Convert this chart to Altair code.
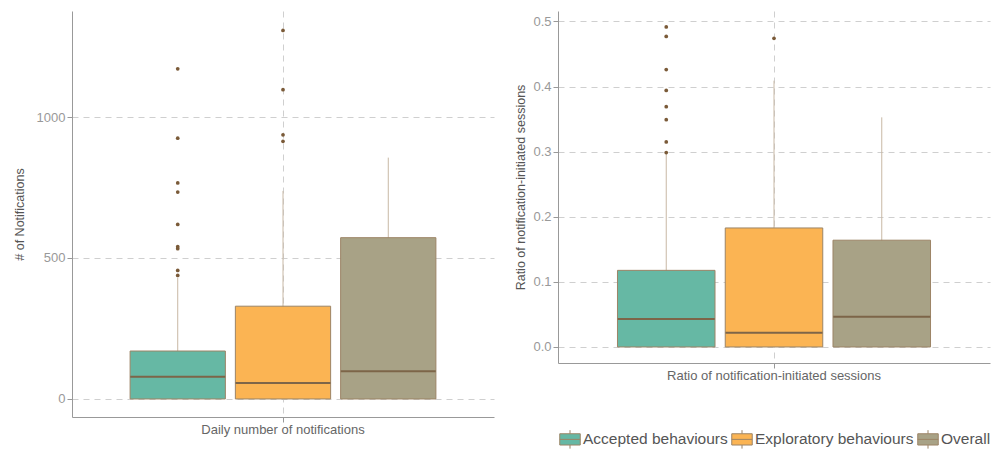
import altair as alt
import pandas as pd

groups = ["Accepted behaviours", "Exploratory behaviours", "Overall"]
colors = ["#66b8a4", "#fbb453", "#a8a286"]

# Left panel: daily number of notifications
left_cat = "Daily number of notifications"
left_q1 = [0, 0, 0]
left_median = [79, 57, 98]
left_q3 = [170, 329, 572]
left_lower = [0, 0, 0]
left_upper = [430, 738, 856]
left_out_accepted = [1171, 925, 766, 734, 619, 540, 533, 456, 438]
left_out_exploratory = [1307, 1097, 937, 914]
left_out_overall = []

# Right panel: ratio of notification-initiated sessions
right_cat = "Ratio of notification-initiated sessions"
right_q1 = [0, 0, 0]
right_median = [0.043, 0.022, 0.0465]
right_q3 = [0.1177, 0.1828, 0.164]
right_lower = [0, 0, 0]
right_upper = [0.2965, 0.409, 0.3527]
right_out_accepted = [0.4915, 0.477, 0.426, 0.394, 0.369, 0.349, 0.315, 0.2985]
right_out_exploratory = [0.474]
right_out_overall = []

FONT = "Liberation Sans"
BORDER = "#9c8466"
WHISKER = "#c8b8a5"
MEDIAN = "#7d6548"
POINT = "#7a5a38"

legend_path = "M-1,-0.55H1V0.55H-1Z M-1,0H1 M0,-0.55V-0.9 M0,0.55V0.9"


def panel(cat, q1, med, q3, lo, hi, outs, domain, values, fmt, ytitle, width, height,
          box_w, title_pad, legend):
    stats = pd.DataFrame({"cat": cat, "group": groups, "q1": q1, "median": med,
                          "q3": q3, "lower": lo, "upper": hi})
    orows = []
    for g, vals in zip(groups, outs):
        for v in vals:
            orows.append({"cat": cat, "group": g, "value": v})
    odf = pd.DataFrame(orows)

    x = alt.X("cat:N", title=None,
              scale=alt.Scale(paddingOuter=0.19, paddingInner=0),
              axis=alt.Axis(labelAngle=0, labelFontSize=13, labelColor="#666",
                            labelPadding=1, tickSize=5, grid=True, labelLimit=500))
    xo = alt.XOffset("group:N", sort=groups,
                     scale=alt.Scale(paddingInner=0.095, paddingOuter=0))
    yscale = alt.Scale(domain=domain, nice=False, zero=False)
    yaxis = alt.Axis(values=values, format=fmt, title=ytitle, titlePadding=title_pad,
                     labelFontSize=13, labelColor="#999", titleFontSize=12.5,
                     titleColor="#555", titleFontWeight="normal", tickSize=5,
                     labelPadding=2)

    whisk = alt.Chart(stats).mark_rule(color=WHISKER, strokeWidth=1).encode(
        x=x, xOffset=xo,
        y=alt.Y("lower:Q", scale=yscale, axis=yaxis), y2="upper:Q")
    box = alt.Chart(stats).mark_bar(stroke=BORDER, strokeWidth=1, opacity=1).encode(
        x=x, xOffset=xo,
        y=alt.Y("q1:Q", scale=yscale, axis=yaxis), y2="q3:Q",
        color=alt.Color("group:N", sort=groups,
                        scale=alt.Scale(domain=groups, range=colors),
                        legend=legend))
    medt = alt.Chart(stats).mark_tick(color=MEDIAN, thickness=2, size=box_w,
                                      orient="horizontal", opacity=1).encode(
        x=x, xOffset=xo, y=alt.Y("median:Q", scale=yscale, axis=yaxis))
    pts = alt.Chart(odf).mark_circle(color=POINT, size=14, opacity=1).encode(
        x=x, xOffset=alt.XOffset("group:N", sort=groups,
                                 scale=alt.Scale(domain=groups, paddingInner=0.095,
                                                 paddingOuter=0)),
        y=alt.Y("value:Q", scale=yscale, axis=yaxis))
    return alt.layer(whisk, box, medt, pts).properties(width=width, height=height)


left = panel(left_cat, left_q1, left_median, left_q3, left_lower, left_upper,
             [left_out_accepted, left_out_exploratory, left_out_overall],
             [-64, 1376], [0, 500, 1000], "d", "# of Notifications",
             422, 406, 95, 10, None)

legend = alt.Legend(title=None, orient="none", legendX=1, legendY=417,
                    direction="horizontal", symbolType=legend_path, symbolSize=420,
                    symbolStrokeColor=BORDER, symbolStrokeWidth=1, symbolOpacity=1,
                    labelFontSize=15.5, labelColor="#555", labelFont=FONT,
                    columnPadding=1, labelOffset=2, labelLimit=300)

right = panel(right_cat, right_q1, right_median, right_q3, right_lower, right_upper,
              [right_out_accepted, right_out_exploratory, right_out_overall],
              [-0.0246, 0.516], [0, 0.1, 0.2, 0.3, 0.4, 0.5], ".1f",
              "Ratio of notification-initiated sessions",
              432, 352, 97, 5, legend)

chart = alt.hconcat(left, right, spacing=20).resolve_scale(
    color="independent", xOffset="independent").resolve_legend(
    color="independent").properties(
    padding={"left": 5, "top": 3, "right": 5, "bottom": 5}
).configure(font=FONT).configure_view(stroke=None).configure_axis(
    domainColor="#999", tickColor="#999", gridColor="#cfcfcf",
    gridDash=[6, 5], gridWidth=1, domainWidth=1, labelFont=FONT, titleFont=FONT
)

chart.save("out.html", embed_options={"renderer": "svg", "actions": False})
